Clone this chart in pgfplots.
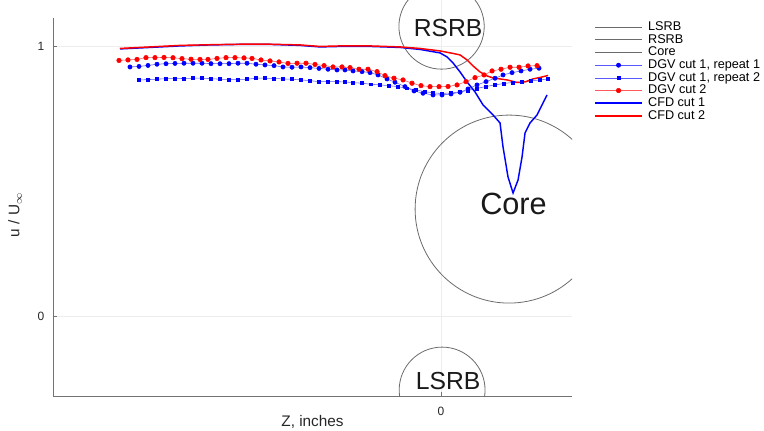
\documentclass[border=0pt]{standalone}
\usepackage{pgfplots}
\pgfplotsset{compat=1.18}
\usepackage{fontspec}
\setmainfont{Liberation Sans}
\definecolor{spine}{gray}{0.45}
\definecolor{circ}{gray}{0.42}
\begin{document}
\begin{tikzpicture}
\useasboundingbox (0,0) rectangle (573pt,322.5pt);
\begin{axis}[
  at={(39.75pt,25.5pt)}, anchor=south west,
  scale only axis, width=389.25pt, height=297pt,
  xmin=-1.437, xmax=0.485, ymin=-0.296, ymax=1.170,
  axis x line*=bottom, axis y line*=left,
  axis line style={-},
  x axis line style={draw=spine, line width=0.6pt},
  y axis line style={draw=none},
  extra description/.code={\draw[spine, line width=0.6pt] (0,0) -- (0,0.9545);},
  xtick={0}, ytick={0,1},
  grid=major, grid style={gray!14, line width=0.5pt},
  tick align=inside, major tick length=3pt,
  tick style={spine, line width=0.5pt},
  /pgf/number format/assume math mode=true,
  ticklabel style={font=\fontsize{9}{10}\selectfont, text=black!85},
  yticklabel style={xshift=-3pt},
  xticklabel style={yshift=-5pt},
  xlabel={Z, inches}, ylabel={u / U$_{\infty}$},
  label style={font=\fontsize{11.5}{13}\selectfont, text=black!85},
  xlabel style={at={(axis description cs:0.5,-0.0657)}, anchor=center},
  ylabel style={at={(axis description cs:-0.0732,0.457)}, anchor=center},
  legend cell align=left,
  legend image code/.code={\draw[mark repeat=2,mark phase=2,#1] plot coordinates {(0cm,0cm) (0.62cm,0cm) (1.24cm,0cm)};},
  legend style={draw=none, fill=none, at={(axis description cs:1.0424,0.948)}, anchor=north west,
    font=\fontsize{9.5}{9.5}\selectfont, inner sep=0pt, row sep=0pt,
    nodes={inner ysep=0pt, text height=7.2pt, text depth=2.3pt},
    /tikz/every odd column/.append style={column sep=2pt}},
]
\addlegendimage{circ, line width=0.6pt}\addlegendentry{LSRB}
\addlegendimage{circ, line width=0.6pt}\addlegendentry{RSRB}
\addlegendimage{circ, line width=0.6pt}\addlegendentry{Core}

\draw[circ, line width=0.6pt] (axis cs:0.002,1.072) circle [x radius=0.158, y radius=0.158];
\draw[circ, line width=0.6pt] (axis cs:0.004,-0.274) circle [x radius=0.159, y radius=0.159];
\draw[circ, line width=0.6pt] (axis cs:0.252,0.396) circle [x radius=0.348, y radius=0.348];

% DGV cut 1, repeat 1
\addplot[blue!65, line width=0.4pt, mark=*, mark size=1.6pt, mark options={draw=blue, fill=blue}] coordinates {
(-1.1519,0.9222) (-1.1185,0.9241) (-1.0852,0.9278) (-1.0519,0.9322) (-1.0185,0.9341)
(-0.9852,0.9352) (-0.9519,0.9359) (-0.9185,0.9359) (-0.8852,0.9359) (-0.8519,0.9344)
(-0.8185,0.9341) (-0.7852,0.9344) (-0.7519,0.9359) (-0.7185,0.9359) (-0.6852,0.9322)
(-0.6519,0.9296) (-0.6185,0.9270) (-0.5852,0.9222) (-0.5519,0.9211) (-0.5185,0.9222)
(-0.4852,0.9196) (-0.4519,0.9167) (-0.4185,0.9137) (-0.3852,0.9111) (-0.3556,0.9111)
(-0.3259,0.9074) (-0.2926,0.9048) (-0.2630,0.9011) (-0.2333,0.8926) (-0.2000,0.8778)
(-0.1704,0.8656) (-0.1333,0.8493) (-0.1000,0.8333) (-0.0667,0.8248) (-0.0296,0.8185)
(0.0037,0.8185) (0.0370,0.8222) (0.0704,0.8285) (0.1000,0.8407) (0.1333,0.8556)
(0.1667,0.8678) (0.2000,0.8804) (0.2296,0.8926) (0.2630,0.9011) (0.2963,0.9074)
(0.3296,0.9137) (0.3630,0.9174)
};
\addlegendentry{DGV cut 1, repeat 1}

% DGV cut 1, repeat 2
\addplot[blue!65, line width=0.4pt, mark=square*, mark size=1.1pt, mark options={draw=blue, fill=blue}] coordinates {
(-1.1185,0.8741) (-1.0852,0.8752) (-1.0519,0.8770) (-1.0185,0.8785) (-0.9852,0.8789)
(-0.9519,0.8796) (-0.9185,0.8804) (-0.8852,0.8804) (-0.8519,0.8789) (-0.8185,0.8767)
(-0.7852,0.8759) (-0.7519,0.8759) (-0.7185,0.8767) (-0.6852,0.8804) (-0.6519,0.8804)
(-0.6185,0.8796) (-0.5852,0.8778) (-0.5519,0.8767) (-0.5185,0.8741) (-0.4852,0.8715)
(-0.4519,0.8678) (-0.4185,0.8678) (-0.3852,0.8678) (-0.3556,0.8667) (-0.3259,0.8641)
(-0.2926,0.8619) (-0.2593,0.8581) (-0.2259,0.8556) (-0.1926,0.8530) (-0.1593,0.8493)
(-0.1259,0.8433) (-0.0926,0.8370) (-0.0593,0.8307) (-0.0296,0.8259) (0.0037,0.8241)
(0.0370,0.8259) (0.0704,0.8296) (0.1000,0.8352) (0.1333,0.8426) (0.1667,0.8500)
(0.2000,0.8556) (0.2333,0.8611) (0.2667,0.8648) (0.3000,0.8667) (0.3333,0.8704)
(0.3667,0.8741) (0.3963,0.8778)
};
\addlegendentry{DGV cut 1, repeat 2}

% DGV cut 2
\addplot[red!65, line width=0.4pt, mark=*, mark size=1.7pt, mark options={draw=red, fill=red}] coordinates {
(-1.1926,0.9463) (-1.1593,0.9481) (-1.1259,0.9500) (-1.0926,0.9567) (-1.0593,0.9567)
(-1.0259,0.9574) (-0.9926,0.9563) (-0.9593,0.9530) (-0.9259,0.9507) (-0.8926,0.9500)
(-0.8630,0.9500) (-0.8296,0.9537) (-0.7963,0.9567) (-0.7630,0.9567) (-0.7296,0.9556)
(-0.7000,0.9537) (-0.6667,0.9481) (-0.6333,0.9444) (-0.6000,0.9407) (-0.5667,0.9352)
(-0.5333,0.9359) (-0.5000,0.9359) (-0.4667,0.9315) (-0.4333,0.9270) (-0.4000,0.9222)
(-0.3667,0.9222) (-0.3370,0.9196) (-0.3037,0.9137) (-0.2704,0.9137) (-0.2370,0.9048)
(-0.2074,0.8900) (-0.1741,0.8804) (-0.1407,0.8741) (-0.1074,0.8619) (-0.0741,0.8530)
(-0.0407,0.8493) (-0.0074,0.8493) (0.0259,0.8500) (0.0593,0.8556) (0.0926,0.8678)
(0.1259,0.8826) (0.1593,0.8926) (0.1889,0.9074) (0.2222,0.9137) (0.2556,0.9211)
(0.2889,0.9211) (0.3222,0.9259) (0.3556,0.9270)
};
\addlegendentry{DGV cut 2}

% CFD cut 1
\addplot[blue, line width=1.1pt, no marks] coordinates {
(-1.1889,0.9889) (-1.0778,0.9944) (-0.9667,1.0000) (-0.8556,1.0037) (-0.7444,1.0056)
(-0.6333,1.0056) (-0.5222,1.0019) (-0.4481,0.9963) (-0.3741,0.9981) (-0.2630,0.9981)
(-0.1519,0.9944) (-0.0778,0.9870) (-0.0037,0.9741) (0.0222,0.9593) (0.0444,0.9370)
(0.0704,0.9037) (0.0963,0.8667) (0.1259,0.8296) (0.1556,0.7815) (0.1926,0.7444)
(0.2185,0.7148) (0.2296,0.6259) (0.2481,0.5148) (0.2667,0.4556) (0.2852,0.5037)
(0.3000,0.5889) (0.3111,0.6778) (0.3296,0.7148) (0.3556,0.7444) (0.3926,0.8185)
};
\addlegendentry{CFD cut 1}

% CFD cut 2
\addplot[red, line width=1.1pt, no marks] coordinates {
(-1.1889,0.9907) (-1.0778,0.9963) (-0.9667,1.0019) (-0.8556,1.0044) (-0.7444,1.0063)
(-0.6333,1.0063) (-0.5222,1.0037) (-0.4481,0.9981) (-0.3741,1.0000) (-0.2630,1.0000)
(-0.1519,0.9963) (-0.0778,0.9907) (-0.0037,0.9815) (0.0444,0.9722) (0.0704,0.9667)
(0.0963,0.9481) (0.1185,0.9259) (0.1444,0.9037) (0.1704,0.8889) (0.1926,0.8815)
(0.2444,0.8741) (0.2815,0.8648) (0.3111,0.8667) (0.3407,0.8778) (0.3667,0.8833)
(0.3963,0.8907)
};
\addlegendentry{CFD cut 2}

\node[font=\fontsize{18.5}{20}\selectfont, text=black!90] at (axis cs:0.026,1.066) {RSRB};
\node[font=\fontsize{18.5}{20}\selectfont, text=black!90] at (axis cs:0.026,-0.2407) {LSRB};
\node[font=\fontsize{23}{25}\selectfont, text=black!90] at (axis cs:0.2685,0.4167) {Core};
\end{axis}
\end{tikzpicture}
\end{document}
